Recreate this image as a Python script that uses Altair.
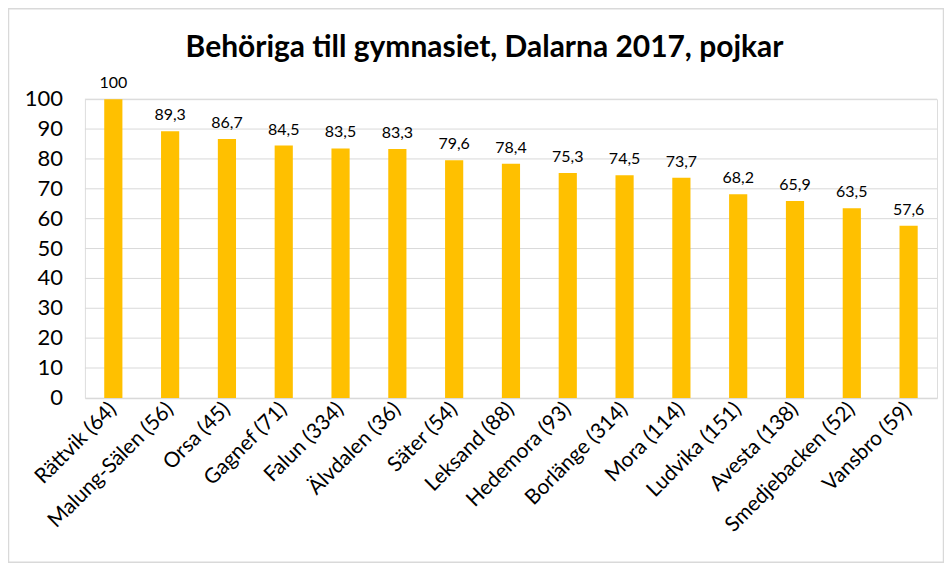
import altair as alt
import pandas as pd

kommuner = ["Rättvik (64)", "Malung-Sälen (56)", "Orsa (45)", "Gagnef (71)", "Falun (334)",
            "Älvdalen (36)", "Säter (54)", "Leksand (88)", "Hedemora (93)", "Borlänge (314)",
            "Mora (114)", "Ludvika (151)", "Avesta (138)", "Smedjebacken (52)", "Vansbro (59)"]
andel = [100, 89.3, 86.7, 84.5, 83.5, 83.3, 79.6, 78.4, 75.3, 74.5, 73.7, 68.2, 65.9, 63.5, 57.6]
y_ticks = [0, 10, 20, 30, 40, 50, 60, 70, 80, 90, 100]
title = "Behöriga till gymnasiet, Dalarna 2017, pojkar"

df = pd.DataFrame({"kommun": kommuner, "andel": andel})
ticks_df = pd.DataFrame({"v": y_ticks})

FONT = "Lato"
W, H = 853, 299
PL, PT, PR, PB = 77, 91, 7, 165

yscale = alt.Scale(domain=[0, 100], nice=False)

x = alt.X("kommun:N", sort=kommuner, title=None,
          scale=alt.Scale(paddingInner=0.68, paddingOuter=0.34),
          axis=alt.Axis(labelAngle=-45, labelAlign="right", labelBaseline="middle",
                        labelFontSize=21, labelFont=FONT, labelColor="#000000",
                        labelPadding=8, ticks=False, domainColor="#d9d9d9",
                        domainWidth=1.5, grid=False, labelOverlap=False, labelLimit=300))
y = alt.Y("andel:Q", title=None, scale=yscale, axis=None)

grid = alt.Chart(ticks_df).transform_filter("datum.v > 0").mark_rule(
    color="#d9d9d9", strokeWidth=1
).encode(y=alt.Y("v:Q", scale=yscale, axis=None))
ylabels = alt.Chart(ticks_df).mark_text(
    align="right", baseline="middle", fontSize=22, font=FONT, color="#000000"
).encode(y=alt.Y("v:Q", scale=yscale, axis=None), x=alt.value(-22), text="v:N")

base = alt.Chart(df)
bars = base.mark_bar(color="#FFC000").encode(x=x, y=y)
labels = base.transform_calculate(
    lab="replace(toString(datum.andel), '.', ',')"
).mark_text(baseline="bottom", dy=-8, fontSize=16, font=FONT, color="#000000").encode(
    x=x, y=y, text="lab:N")

one = pd.DataFrame({"t": [title]})
border = alt.Chart(one).mark_rect(
    fill=None, stroke="#d9d9d9", strokeWidth=1.5, clip=False
).encode(x=alt.value(-PL + 0.5), x2=alt.value(W + PR - 0.5),
         y=alt.value(-PT + 0.5), y2=alt.value(H + PB - 0.5))
title_mark = alt.Chart(one).mark_text(
    fontSize=30, fontWeight="bold", font=FONT, color="#000000", baseline="middle", align="center"
).encode(x=alt.value(400), y=alt.value(-51), text="t:N")

chart = alt.layer(border, grid, ylabels, bars, labels, title_mark).properties(
    width=W, height=H,
    autosize=alt.AutoSizeParams(type="none"),
    padding={"left": PL, "top": PT, "right": PR, "bottom": PB},
).configure_view(stroke=None).configure(background="white")

chart.save("out.html", embed_options={"renderer": "svg", "actions": False})
